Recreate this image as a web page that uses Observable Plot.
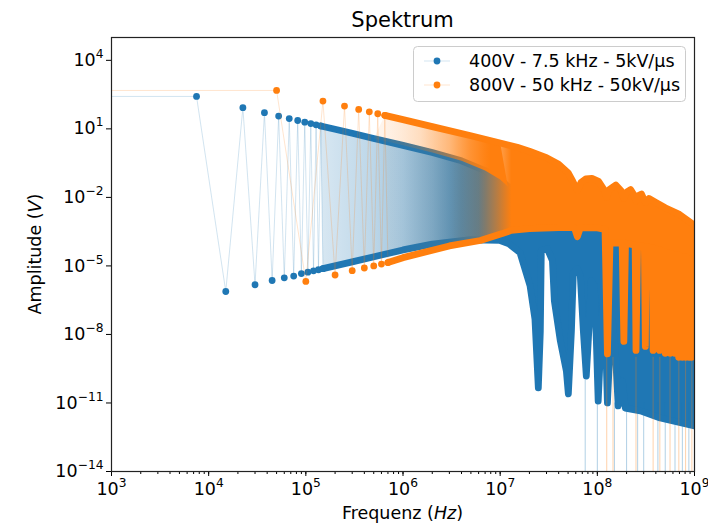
<!DOCTYPE html>
<html><head><meta charset="utf-8">
<script src="https://cdn.jsdelivr.net/npm/d3@7"></script>
<script src="https://cdn.jsdelivr.net/npm/@observablehq/plot@0.6"></script>
<style>
body{margin:0;background:#fff;}
#chart{position:relative;width:708px;height:524px;}
</style></head><body><div id="chart"></div>
<script>
// ---------- data ----------
const seriesNames = ["400V - 7.5 kHz - 5kV/\u00b5s", "800V - 50 kHz - 50kV/\u00b5s"];
const seriesColors = ["#1f77b4", "#ff7f0e"];
const xTicks = [1e3, 1e4, 1e5, 1e6, 1e7, 1e8, 1e9];
const yTicks = [1e4, 1e1, 1e-2, 1e-5, 1e-8, 1e-11, 1e-14];

// series 1 (blue): first harmonics, individual points (first entry = DC lead-in)
const blueFreq = [1, 7500, 15000, 22500, 30000, 37500, 45000, 52500, 60000, 67500, 75000, 82500, 90000, 97500, 105000, 112500, 120000, 127500, 135000, 142500, 150000];
const blueAmp  = [263, 263, 7.6e-7, 85, 1.5e-6, 51, 2.3e-6, 36.4, 3.0e-6, 28.3, 3.6e-6, 23.2, 4.6e-6, 19.6, 5.3e-6, 17, 6.1e-6, 15, 6.8e-6, 13.4, 7.6e-6];
// blue dense band: upper edge (odd harmonics)
const blueTopFreq = [142500, 2e5, 3e5, 5e5, 1e6, 2e6, 4e6, 7e6, 1e7, 1.2e7, 2e7, 5e7, 1e8, 2e8, 5e8, 1e9];
const blueTopAmp  = [13.4, 9.6, 6.4, 3.8, 1.9, 0.92, 0.40, 0.15, 0.06, 0.03, 0.02, 3e-3, 8e-4, 2.5e-4, 8e-5, 3e-5];
// blue dense band: lower edge (even harmonics and sinc nulls)
const blueLowFreq = [150000, 3e5, 6e5, 1e6, 2e6, 5e6, 1e7, 1.23e7, 1.6e7, 2.03e7, 2.28e7, 2.47e7, 2.59e7, 2.65e7, 3.06e7, 3.45e7, 3.61e7, 4.16e7, 4.8e7, 5.03e7, 5.41e7, 5.66e7, 6.23e7, 6.68e7, 7.18e7, 7.7e7, 8.28e7, 8.67e7, 9.31e7, 9.77e7, 1.02e8, 1.1e8, 1.15e8, 1.21e8, 1.27e8, 1.36e8, 1.43e8, 1.53e8, 1.64e8, 1.81e8, 1.94e8, 2.77e8, 4.44e8, 1e9];
const blueLowAmp  = [7.6e-6, 1.5e-5, 3e-5, 5e-5, 9e-5, 1.4e-4, 1.3e-4, 9.3e-5, 3.8e-5, 1.35e-6, 4.8e-8, 4.6e-11, 1.4e-8, 4.7e-5, 5.6e-5, 1.7e-5, 3e-7, 5.2e-9, 2.5e-10, 2.5e-11, 1.4e-8, 5e-6, 7.6e-6, 3.7e-6, 1.4e-8, 1.5e-10, 4e-8, 2.2e-6, 1.35e-6, 5.2e-9, 1.2e-11, 1.4e-8, 3e-7, 1.4e-8, 1e-11, 5.2e-9, 4e-8, 1.9e-9, 7.4e-12, 9e-11, 6e-12, 4.5e-12, 2.2e-12, 1e-12];
// blue connecting lines that leave the plot (exact nulls)
const blueNullFreq = [7.5e7, 1e8, 1.5e8, 2e8, 2.6e8, 3e8, 4.2e8, 5e8, 6.3e8, 7.5e8, 8.75e8];
const blueNullAmp  = [1e-10, 1e-11, 1e-11, 1e-11, 1e-11, 1e-11, 1e-11, 1e-11, 1e-11, 1e-11, 1e-11];

// series 2 (orange): first harmonics, individual points (first entry = DC lead-in)
const orangeFreq = [1, 50000, 100000, 150000, 200000, 250000, 300000, 350000, 400000, 450000, 500000, 550000, 600000, 650000, 700000];
const orangeAmp  = [480, 480, 2.1e-6, 164, 4.0e-6, 100, 6.2e-6, 71, 8.1e-6, 56, 1.0e-5, 46, 1.2e-5, 39, 1.4e-5];
// orange dense band: upper edge
const orangeTopFreq = [650000, 1e6, 2e6, 5e6, 1e7, 1.5e7, 2e7, 3e7, 4e7, 5e7, 5.6e7, 6.25e7, 6.8e7, 7.6e7, 8.8e7, 1.03e8, 1.17e8, 1.25e8, 1.33e8, 1.55e8, 1.75e8, 1.875e8, 2e8, 2.2e8, 2.4e8, 2.5e8, 2.65e8, 2.85e8, 3.12e8, 3.4e8, 4e8, 5e8, 7e8, 1e9];
const orangeTopAmp  = [39, 25.5, 12.6, 5.0, 2.4, 1.55, 1.05, 0.55, 0.28, 0.12, 0.05, 0.02, 0.045, 0.065, 0.068, 0.05, 0.022, 0.01, 0.022, 0.035, 0.02, 0.009, 0.017, 0.022, 0.012, 0.007, 0.012, 0.014, 0.006, 0.009, 0.006, 0.0035, 0.0018, 6e-4];
// orange dense band: lower edge
const orangeLowFreq = [700000, 1e6, 3e6, 6.25e6, 1.05e7, 1.3e7, 2e7, 4e7, 5.8e7, 6.23e7, 6.7e7, 1e8, 1.2e8, 1.27e8, 1.35e8, 1.8e8, 1.875e8, 1.95e8, 2.45e8, 2.5e8, 2.6e8, 3.05e8, 3.12e8, 3.2e8, 3.7e8, 3.75e8, 3.8e8, 4.3e8, 4.37e8, 4.45e8, 4.95e8, 5e8, 5.1e8, 5.6e8, 5.62e8, 5.7e8, 6.2e8, 6.25e8, 6.3e8, 6.85e8, 6.87e8, 6.95e8, 7.45e8, 7.5e8, 7.6e8, 8.1e8, 8.12e8, 8.2e8, 8.7e8, 8.75e8, 8.8e8, 9.35e8, 9.37e8, 9.45e8, 1e9];
const orangeLowAmp  = [1.4e-5, 2.3e-5, 7.5e-5, 1.3e-4, 2.6e-4, 3.6e-4, 4.3e-4, 4.8e-4, 4.8e-4, 1.9e-4, 4.8e-4, 4.6e-4, 4e-4, 1.4e-9, 1e-4, 1e-4, 5e-9, 1e-4, 8e-5, 2e-9, 8e-5, 7e-5, 3e-9, 7e-5, 6e-5, 2e-9, 6e-5, 5e-5, 2e-9, 5e-5, 4e-5, 1.5e-9, 4e-5, 3.5e-5, 1.5e-9, 3.5e-5, 3e-5, 1.5e-9, 3e-5, 3e-5, 1e-9, 3e-5, 2.5e-5, 1e-9, 2.5e-5, 2.5e-5, 1e-9, 2.5e-5, 2e-5, 1e-9, 2e-5, 2e-5, 1e-9, 2e-5, 2e-5];
const orangeNullFreq = [1.25e8, 1.45e8, 2.5e8, 3.75e8, 4.4e8, 5.6e8, 6.9e8, 8.1e8, 9.4e8];
const orangeNullAmp  = [1e-9, 1e-9, 1e-9, 1e-9, 1e-9, 1e-9, 1e-9, 1e-9, 1e-9];

// ---------- tables ----------
const pts = (F, A) => F.map((f, i) => ({f, a: A[i]}));
const blue = pts(blueFreq, blueAmp), orange = pts(orangeFreq, orangeAmp);
const blueTop = pts(blueTopFreq, blueTopAmp), blueLow = pts(blueLowFreq, blueLowAmp);
const orangeTop = pts(orangeTopFreq, orangeTopAmp), orangeLow = pts(orangeLowFreq, orangeLowAmp);
const blueBand = [...blueTop, ...blueLow.slice().reverse()];
const orangeBand = [...orangeTop, ...orangeLow.slice().reverse()];
// part of the orange band that lies above the blue band (on white background)
const orangeAbove = [...orangeTop.filter(d => d.f <= 1.2e7), ...blueTop.filter(d => d.f >= 5e5 && d.f <= 1.2e7).reverse()];
const blueNull = pts(blueNullFreq, blueNullAmp), orangeNull = pts(orangeNullFreq, orangeNullAmp);

const [cB, cO] = seriesColors;
const R = 3.4, EW = 6.8;
const fmt = d => "10^" + Math.round(Math.log10(d));

function seriesMarks(expl, band, top, low, nulls, color, gradId, extra) {
  return [
    Plot.line(band, {x: "f", y: "a", fill: `url(#${gradId})`, stroke: "none", clip: true}),
    ...(extra ? [Plot.line(extra, {x: "f", y: "a", fill: `url(#${gradId}2)`, stroke: "none", clip: true})] : []),
    Plot.line(expl, {x: "f", y: "a", stroke: color, strokeOpacity: 0.25, strokeWidth: 0.8, clip: true}),
    Plot.ruleX(nulls, {x: "f", y1: 1e-16, y2: "a", stroke: color, strokeOpacity: 0.35, strokeWidth: 1, clip: true}),
    Plot.line(top, {x: "f", y: "a", stroke: color, strokeWidth: EW, clip: true}),
    Plot.line(low, {x: "f", y: "a", stroke: color, strokeWidth: EW, clip: true}),
    Plot.dot(expl, {x: "f", y: "a", r: R, fill: color, stroke: "none", clip: true})
  ];
}

const plot = Plot.plot({
  width: 708, height: 524,
  marginLeft: 111, marginRight: 14, marginTop: 37, marginBottom: 53,
  style: {fontFamily: "'DejaVu Sans', sans-serif", fontSize: "17.5px", background: "#fff", color: "#000", overflow: "visible"},
  x: {type: "log", domain: [1e3, 1e9], label: null},
  y: {type: "log", domain: [1e-14, 1e5], label: null},
  marks: [
    ...seriesMarks(blue, blueBand, blueTop, blueLow, blueNull, cB, "gB"),
    ...seriesMarks(orange, orangeBand, orangeTop, orangeLow, orangeNull, cO, "gO", orangeAbove),
    Plot.axisX({ticks: 60, tickSize: 3, tickFormat: () => "", label: null}),
    Plot.axisX(xTicks, {tickSize: 5, tickPadding: 6, tickFormat: fmt, label: null}),
    Plot.axisY(yTicks, {tickSize: 5, tickPadding: 3, tickFormat: fmt, label: null}),
    Plot.frame({stroke: "#222", strokeWidth: 1.2})
  ]
});

const svg = d3.select(plot);
const xs = plot.scale("x");
const defs = svg.insert("defs", ":first-child");
function grad(id, color, stops) {
  const x0 = xs.apply(stops[0][0]), x1 = xs.apply(stops[stops.length - 1][0]);
  const g = defs.append("linearGradient").attr("id", id).attr("gradientUnits", "userSpaceOnUse")
    .attr("x1", x0).attr("x2", x1).attr("y1", 0).attr("y2", 0);
  for (const [f, o] of stops) g.append("stop").attr("offset", (xs.apply(f) - x0) / (x1 - x0)).attr("stop-color", color).attr("stop-opacity", o);
}
grad("gB", cB, [[1.5e5, 0.18], [5e5, 0.3], [1e6, 0.42], [2e6, 0.62], [4e6, 0.88], [7e6, 1]]);
grad("gO", cO, [[1e6, 0.03], [3e6, 0.1], [6e6, 0.3], [9e6, 0.65], [1.3e7, 1]]);
grad("gO2", cO, [[7e5, 0.08], [1.5e6, 0.22], [3e6, 0.5], [5e6, 0.8], [8e6, 1]]);

// superscript tick labels
svg.selectAll("text").each(function() {
  const m = /^10\^(-?\d+)$/.exec(this.textContent);
  if (!m) return;
  const t = d3.select(this);
  t.text("");
  t.append("tspan").text("10");
  t.append("tspan").attr("dy", -8).attr("font-size", "0.7em").text(m[1].replace("-", "\u2212"));
});

// title and axis labels
svg.append("text").attr("x", 402.5).attr("y", 27).attr("text-anchor", "middle").attr("font-size", 21).attr("fill", "#000").text("Spektrum");
const xl = svg.append("text").attr("x", 402.5).attr("y", 519).attr("text-anchor", "middle").attr("fill", "#000");
xl.append("tspan").text("Frequenz (");
xl.append("tspan").attr("font-style", "italic").text("Hz");
xl.append("tspan").text(")");
const yl = svg.append("text").attr("transform", "translate(41,254) rotate(-90)").attr("text-anchor", "middle").attr("fill", "#000");
yl.append("tspan").text("Amplitude (");
yl.append("tspan").attr("font-style", "italic").text("V");
yl.append("tspan").text(")");

// legend
const lg = svg.append("g");
lg.append("rect").attr("x", 413.5).attr("y", 46.5).attr("width", 272).attr("height", 55).attr("rx", 4)
  .attr("fill", "#fff").attr("fill-opacity", 0.8).attr("stroke", "#ccc");
seriesNames.forEach((name, i) => {
  const y = 61 + 24 * i;
  lg.append("line").attr("x1", 424).attr("x2", 450).attr("y1", y).attr("y2", y).attr("stroke", seriesColors[i]).attr("stroke-opacity", 0.25).attr("stroke-width", 0.8);
  lg.append("circle").attr("cx", 437).attr("cy", y).attr("r", R).attr("fill", seriesColors[i]);
  lg.append("text").attr("x", 469).attr("y", y + 6.3).attr("text-anchor", "start").attr("fill", "#000").text(name);
});

document.getElementById("chart").appendChild(plot);
</script>
</body></html>
